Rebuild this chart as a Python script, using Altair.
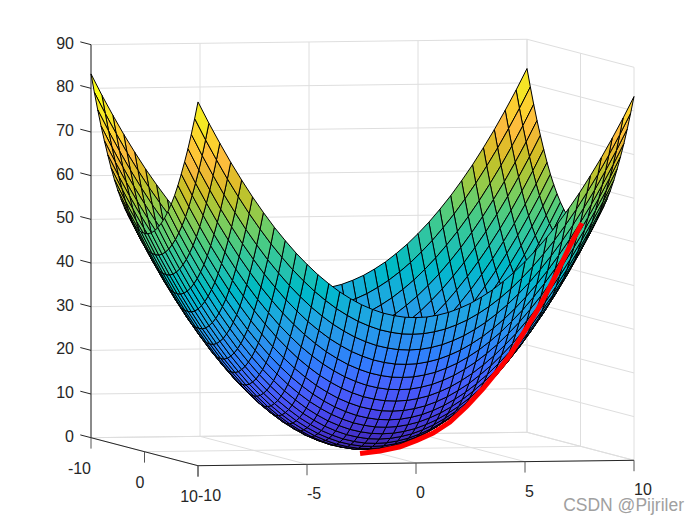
import altair as alt
import pandas as pd

alt.data_transformers.disable_max_rows()

# surface grids and height profiles
grid_x = [-10, -9.5, -9, -8.5, -8, -7.5, -7, -6.5, -6, -5.5, -5, -4.5, -4, -3.5, -3, -2.5, -2, -1.5, -1, -0.5, 0,
          0.5, 1, 1.5, 2, 2.5, 3, 3.5, 4, 4.5, 5, 5.5, 6, 6.5, 7, 7.5, 8, 8.5, 9, 9.5, 10]
height_x = [50.0, 45.1, 40.5, 36.1, 32.0, 28.1, 24.5, 21.1, 18.0, 15.1, 12.5, 10.1, 8.0, 6.1, 4.5, 3.1, 2.0, 1.1, 0.5, 0.1, 0.0,
            0.1, 0.5, 1.1, 2.0, 3.1, 4.5, 6.1, 8.0, 10.1, 12.5, 15.1, 18.0, 21.1, 24.5, 28.1, 32.0, 36.1, 40.5, 45.1, 50.0]
grid_y = [-10, -9.375, -8.75, -8.125, -7.5, -6.875, -6.25, -5.625, -5, -4.375, -3.75, -3.125, -2.5, -1.875, -1.25, -0.625, 0,
          0.625, 1.25, 1.875, 2.5, 3.125, 3.75, 4.375, 5, 5.625, 6.25, 6.875, 7.5, 8.125, 8.75, 9.375, 10]
height_y = [33.3, 29.3, 25.5, 22.0, 18.8, 15.8, 13.0, 10.5, 8.3, 6.4, 4.7, 3.3, 2.1, 1.2, 0.5, 0.1, 0.0,
            0.1, 0.5, 1.2, 2.1, 3.3, 4.7, 6.4, 8.3, 10.5, 13.0, 15.8, 18.8, 22.0, 25.5, 29.3, 33.3]

# red path on the diagonal
red_xy = [-0.09, 0.645, 1.38, 2.0, 2.6, 3.22, 3.85, 4.44, 5.06, 5.43, 5.91, 6.43, 6.9, 7.27, 7.64, 8.08]
red_z = [-1.05, -0.3, 0.87, 2.5, 4.33, 7.0, 10.84, 15.0, 19.85, 22.9, 27.9, 33.3, 38.9, 43.6, 48.5, 53.8]

x_ticks = [-10, -5, 0, 5, 10]
y_ticks = [-10, 0, 10]
z_ticks = [0, 10, 20, 30, 40, 50, 60, 70, 80, 90]

parula_rgb = [
(0.2422,0.1504,0.6603),(0.2504,0.1650,0.7076),(0.2578,0.1818,0.7511),(0.2647,0.1978,0.7952),
(0.2706,0.2147,0.8364),(0.2751,0.2342,0.8710),(0.2783,0.2559,0.8991),(0.2803,0.2782,0.9221),
(0.2813,0.3006,0.9414),(0.2810,0.3228,0.9579),(0.2795,0.3447,0.9717),(0.2760,0.3667,0.9829),
(0.2699,0.3892,0.9906),(0.2602,0.4123,0.9952),(0.2440,0.4358,0.9988),(0.2206,0.4603,0.9973),
(0.1963,0.4847,0.9892),(0.1834,0.5074,0.9798),(0.1786,0.5289,0.9682),(0.1764,0.5499,0.9520),
(0.1687,0.5703,0.9359),(0.1540,0.5902,0.9218),(0.1460,0.6091,0.9079),(0.1380,0.6276,0.8973),
(0.1248,0.6459,0.8883),(0.1113,0.6635,0.8763),(0.0952,0.6798,0.8598),(0.0689,0.6948,0.8394),
(0.0297,0.7082,0.8163),(0.0036,0.7203,0.7917),(0.0067,0.7312,0.7660),(0.0433,0.7411,0.7394),
(0.0964,0.7500,0.7120),(0.1408,0.7584,0.6842),(0.1717,0.7670,0.6554),(0.1938,0.7758,0.6251),
(0.2161,0.7843,0.5923),(0.2470,0.7918,0.5567),(0.2906,0.7973,0.5188),(0.3406,0.8008,0.4789),
(0.3909,0.8029,0.4354),(0.4456,0.8024,0.3909),(0.5044,0.7993,0.3480),(0.5616,0.7942,0.3045),
(0.6174,0.7876,0.2612),(0.6720,0.7793,0.2227),(0.7242,0.7698,0.1910),(0.7738,0.7598,0.1646),
(0.8203,0.7498,0.1535),(0.8634,0.7406,0.1596),(0.9035,0.7330,0.1774),(0.9393,0.7288,0.2100),
(0.9728,0.7298,0.2394),(0.9956,0.7434,0.2371),(0.9970,0.7659,0.2199),(0.9952,0.7893,0.2028),
(0.9892,0.8136,0.1885),(0.9786,0.8386,0.1766),(0.9676,0.8639,0.1643),(0.9610,0.8890,0.1537),
(0.9597,0.9135,0.1423),(0.9628,0.9373,0.1265),(0.9691,0.9606,0.1064),(0.9769,0.9839,0.0805)]
parula_hex = ["#%02x%02x%02x" % tuple(round(c * 255) for c in rgb) for rgb in parula_rgb]
zmax = height_x[0] + height_y[0]
parula_dom = [round(zmax * i / 63, 3) for i in range(64)]


def sx(x, y):
    return 354.5 + 21.8 * x + 5.35 * y


def sy(x, y, z):
    return 441 - 0.27 * x + 1.4 * y - 4.367 * z


# surface quads, sorted back to front
quads = []
for i in range(len(grid_x) - 1):
    for j in range(len(grid_y) - 1):
        corners = [(i, j), (i + 1, j), (i + 1, j + 1), (i, j + 1), (i, j)]
        pts = [(grid_x[a], grid_y[b], height_x[a] + height_y[b]) for a, b in corners]
        cx = sum(p[0] for p in pts[:4]) / 4
        cy = sum(p[1] for p in pts[:4]) / 4
        cz = sum(p[2] for p in pts[:4]) / 4
        quads.append((-0.245 * cx + cy + 0.013 * cz, pts))
quads.sort(key=lambda q: q[0])
rows = []
for q, (_, pts) in enumerate(quads):
    for k, (x, y, z) in enumerate(pts):
        rows.append({"sx": round(sx(x, y), 2), "sy": round(sy(x, y, z), 2), "zc": pts[0][2], "q": q, "k": k})
surface_df = pd.DataFrame(rows)

X = alt.X("sx:Q", scale=alt.Scale(domain=[0, 684], nice=False, zero=False), axis=None)
Y = alt.Y("sy:Q", scale=alt.Scale(domain=[509, 0], nice=False, zero=False), axis=None)


def seg(a, b):
    return {"sx": round(sx(a[0], a[1]), 2), "sy": round(sy(*a), 2),
            "sx2": round(sx(b[0], b[1]), 2), "sy2": round(sy(*b), 2)}


# back grid planes
grid_rows = []
for t in x_ticks:
    grid_rows.append(seg((t, -10, 0), (t, 10, 0)))
    grid_rows.append(seg((t, -10, 0), (t, -10, 90)))
for t in y_ticks:
    grid_rows.append(seg((-10, t, 0), (10, t, 0)))
    grid_rows.append(seg((10, t, 0), (10, t, 90)))
for t in z_ticks:
    grid_rows.append(seg((-10, -10, t), (10, -10, t)))
    grid_rows.append(seg((10, -10, t), (10, 10, t)))
grid_chart = alt.Chart(pd.DataFrame(grid_rows)).mark_rule(color="#dedede", strokeWidth=1).encode(
    x=X, y=Y, x2="sx2:Q", y2="sy2:Q")

# axis lines and ticks
axis_rows = [seg((-10, -10, 0), (-10, -10, 90)), seg((-10, -10, 0), (-10, 10, 0)), seg((-10, 10, 0), (10, 10, 0))]
for t in z_ticks:
    axis_rows.append(seg((-10, -10, t), (-10, -12, t)))
axis_chart = alt.Chart(pd.DataFrame(axis_rows)).mark_rule(color="#262626", strokeWidth=1).encode(
    x=X, y=Y, x2="sx2:Q", y2="sy2:Q")

tick_rows = []
for t in x_ticks:
    tick_rows.append(seg((t, 10, 0), (t, 10, -2.5)))
for t in y_ticks:
    tick_rows.append(seg((-10, t, 0), (-10, t, -2.5)))
tick_chart = alt.Chart(pd.DataFrame(tick_rows)).mark_rule(color="#555555", strokeWidth=1).encode(
    x=X, y=Y, x2="sx2:Q", y2="sy2:Q")

surface = alt.Chart(surface_df).mark_line(stroke="#000000", strokeWidth=1, strokeJoin="round").encode(
    x=X, y=Y,
    fill=alt.Fill("zc:Q", scale=alt.Scale(domain=parula_dom, range=parula_hex), legend=None),
    detail="q:N",
    order="k:Q")

red_df = pd.DataFrame({"sx": [sx(t, t) for t in red_xy],
                       "sy": [sy(t, t, z) for t, z in zip(red_xy, red_z)],
                       "k": list(range(len(red_xy)))})
red = alt.Chart(red_df).mark_line(color="#ff0000", strokeWidth=5).encode(x=X, y=Y, order="k:Q")

FONT = "Liberation Sans"


def labels(rows, align, dx, dy):
    return alt.Chart(pd.DataFrame(rows)).mark_text(
        font=FONT, fontSize=16, color="#262626", align=align, baseline="middle", dx=dx, dy=dy
    ).encode(x=X, y=Y, text="t:N")


x_lab = labels([{"sx": sx(t, 10), "sy": sy(t, 10, 0), "t": str(t)} for t in x_ticks], "left", 0, 30)
y_lab = labels([{"sx": sx(-10, t), "sy": sy(-10, t, 0), "t": str(t)} for t in y_ticks], "right", 0, 31)
z_lab = labels([{"sx": sx(-10, -10), "sy": sy(-10, -10, t), "t": str(t)} for t in z_ticks], "right", -17, -1)

watermark = alt.Chart(pd.DataFrame({"sx": [684], "sy": [506 - 8], "t": ["CSDN @Pijriler"]})).mark_text(
    font=FONT, fontSize=17.5, color="#a0a0a0", align="right", baseline="middle", dx=-8
).encode(x=X, y=Y, text="t:N")

chart = alt.layer(grid_chart, axis_chart, tick_chart, surface, red, x_lab, y_lab, z_lab, watermark).properties(
    width=684, height=509, autosize=alt.AutoSizeParams(type="none"), padding=0
).configure_view(stroke=None)

chart.save("out.html", embed_options={"renderer": "svg", "actions": False})
